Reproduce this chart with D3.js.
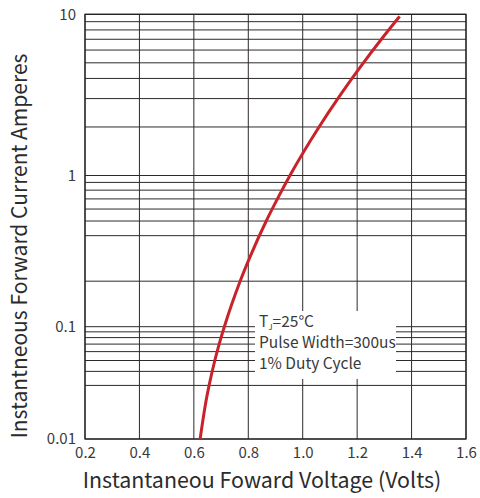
<!DOCTYPE html>
<html>
<head>
<meta charset="utf-8">
<script src="https://cdn.jsdelivr.net/npm/d3@7"></script>
<style>
  body { margin: 0; background: #fff; }
  text { font-family: "Noto Sans CJK SC", "Noto Sans", sans-serif; fill: #3a3a3a; }
</style>
</head>
<body>
<div id="chart"></div>
<script>
// Forward characteristic curve
var voltage = [0.623, 0.642, 0.656, 0.677, 0.693, 0.712, 0.770, 0.810, 0.866, 0.907,
               0.953, 1.060, 1.129, 1.223, 1.289, 1.356];
var current = [0.01, 0.02, 0.03, 0.05, 0.07, 0.1, 0.2, 0.3, 0.5, 0.7,
               1, 2, 3, 5, 7, 9.7];

// Axis ticks and grid values
var xTicks = [0.2, 0.4, 0.6, 0.8, 1.0, 1.2, 1.4, 1.6];
var yTicks = [0.01, 0.1, 1, 10];
var yTickLabels = ["0.01", "0.1", "1", "10"];
var yGrid = [9, 8, 7, 6, 5, 4, 3, 2,
             0.9, 0.8, 0.7, 0.6, 0.5, 0.4, 0.2,
             0.09, 0.08, 0.07, 0.06, 0.05, 0.04, 0.03];
var noteLines = ["=25°C", "Pulse Width=300us", "1% Duty Cycle"];

var width = 480, height = 498;
// (window.top is reserved, so plot edges get their own names)
var plotLeft = 85, plotRight = 466, plotTop = 14.3, plotBottom = 439;

var svg = d3.select("#chart").append("svg")
    .attr("width", width)
    .attr("height", height);

var x = d3.scaleLinear()
    .domain([0.2, 1.6])
    .range([plotLeft, plotRight]);

// the decades are not drawn the same height in the original sheet
var y = d3.scaleLog()
    .domain([0.01, 0.1, 1, 10])
    .range([plotBottom, 326.7, 175.5, plotTop]);

var gridColor = "#2e2a2b";

// horizontal grid lines
svg.append("g").selectAll("line")
    .data(yGrid.concat(yTicks))
    .enter().append("line")
    .attr("x1", plotLeft).attr("x2", plotRight)
    .attr("y1", function(d) { return y(d); })
    .attr("y2", function(d) { return y(d); })
    .attr("stroke", gridColor)
    .attr("stroke-width", 1);

// vertical grid lines
svg.append("g").selectAll("line")
    .data(xTicks)
    .enter().append("line")
    .attr("x1", function(d) { return x(d); })
    .attr("x2", function(d) { return x(d); })
    .attr("y1", plotTop).attr("y2", plotBottom)
    .attr("stroke", gridColor)
    .attr("stroke-width", 1);

// frame
svg.append("rect")
    .attr("x", plotLeft).attr("y", plotTop)
    .attr("width", plotRight - plotLeft).attr("height", plotBottom - plotTop)
    .attr("fill", "none")
    .attr("stroke", "#231f20")
    .attr("stroke-width", 1.2);

// x axis labels
var xAxis = d3.axisBottom(x)
    .tickValues(xTicks)
    .tickSize(0)
    .tickPadding(8)
    .tickFormat(d3.format(".1f"));
var gx = svg.append("g")
    .attr("transform", "translate(0," + plotBottom + ")")
    .call(xAxis);
gx.select(".domain").remove();
gx.selectAll("text")
    .style("font-size", "15px")
    .style("fill", "#3a3a3a")
    .style("font-family", "'Noto Sans CJK SC', sans-serif");

// y axis labels
var yAxis = d3.axisLeft(y)
    .tickValues(yTicks)
    .tickSize(0)
    .tickPadding(9)
    .tickFormat(function(d, i) { return yTickLabels[i]; });
var gy = svg.append("g")
    .attr("transform", "translate(" + plotLeft + ",0)")
    .call(yAxis);
gy.select(".domain").remove();
gy.selectAll("text")
    .style("font-size", "15px")
    .style("fill", "#3a3a3a")
    .style("font-family", "'Noto Sans CJK SC', sans-serif");

// the curve
var pts = voltage.map(function(v, i) { return [v, current[i]]; });
var line = d3.line()
    .x(function(d) { return x(d[0]); })
    .y(function(d) { return y(d[1]); })
    .curve(d3.curveMonotoneX);
svg.append("path")
    .datum(pts)
    .attr("d", line)
    .attr("fill", "none")
    .attr("stroke", "#c8232a")
    .attr("stroke-width", 3)
    .attr("stroke-linecap", "butt");

// note box, blanks the grid behind it
var note = svg.append("g").attr("transform", "translate(255,311)");
note.append("rect")
    .attr("width", 141).attr("height", 68)
    .attr("fill", "#fff");
// one text block, three lines
var noteText = note.append("text")
    .attr("x", 4).attr("y", 16)
    .style("font-size", "15.5px");
noteText.append("tspan").text("T");
noteText.append("tspan").text("J")
    .style("font-size", "8px")
    .attr("dy", "3");
noteText.append("tspan").text(noteLines[0])
    .attr("dy", "-3");
noteText.append("tspan")
    .attr("x", 4).attr("dy", 21)
    .text(noteLines[1]);
noteText.append("tspan")
    .attr("x", 4).attr("dy", 21)
    .text(noteLines[2]);

// axis titles
svg.append("text")
    .attr("x", 262).attr("y", 488)
    .attr("text-anchor", "middle")
    .style("font-size", "21.4px")
    .style("fill", "#2b2b2b")
    .text("Instantaneou Foward Voltage (Volts)");

svg.append("text")
    .attr("transform", "translate(27,246) rotate(-90)")
    .attr("text-anchor", "middle")
    .style("font-size", "21px")
    .style("fill", "#2b2b2b")
    .text("Instantneous Forward Current Amperes");
</script>
</body>
</html>
